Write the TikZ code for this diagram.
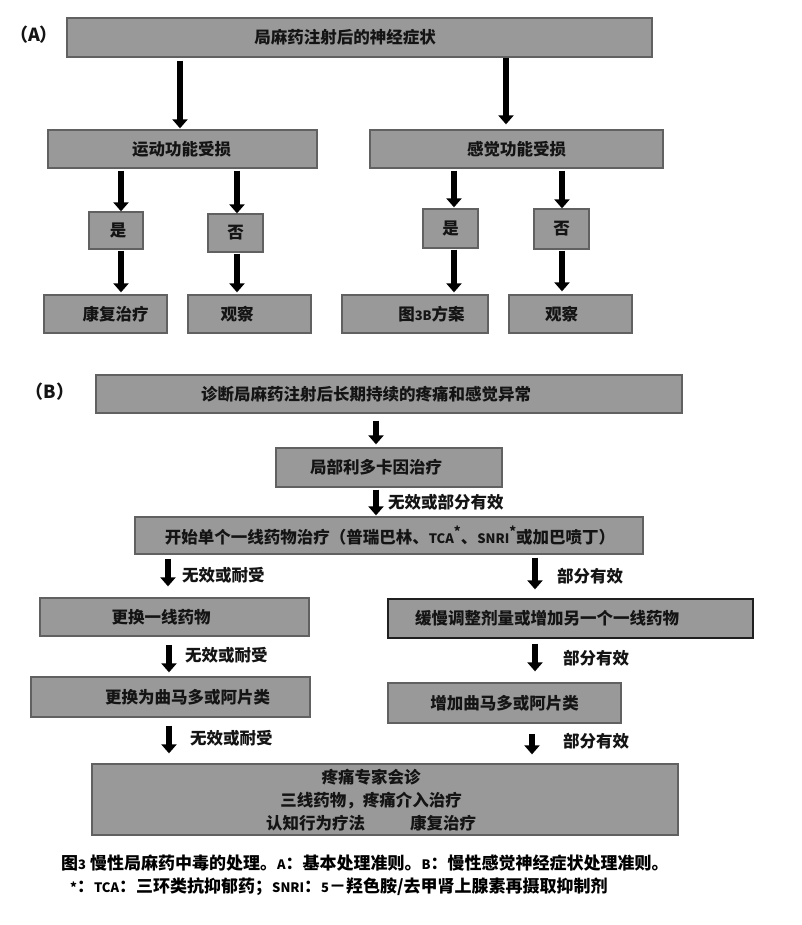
\documentclass[tikz,border=0pt]{standalone}
\usepackage{fontspec}
\setmainfont{Noto Sans CJK SC}
\usetikzlibrary{arrows.meta}
\tikzset{
  box/.style={draw=black!62, line width=1.3pt, fill=black!40, inner sep=0pt},
  arr/.style={line width=6.5pt, -{Triangle[width=15pt,length=9pt]}},
  txt/.style={font=\fontsize{16.5}{23}\selectfont\bfseries, text=black!92, inner sep=0pt},
  captxt/.style={font=\fontsize{17}{20}\selectfont\bfseries, text=black, inner sep=0pt, anchor=west},
}
\newcommand{\lat}[1]{{\fontsize{13}{15}\selectfont #1}}
\begin{document}
\begin{tikzpicture}[x=1pt,y=-1pt]
\useasboundingbox[fill=white] (0,0) rectangle (801,925);

% ---------------- Part A ----------------
\node[txt, font=\fontsize{18}{20}\selectfont\bfseries] (labA) at (34,35) {（A）};
\node[box, minimum width=585pt, minimum height=39pt, label={[txt,xshift=-14.5pt]center:{局麻药注射后的神经症状}}] (top) at (359.5,37.5) {};
\node[box, minimum width=269pt, minimum height=38pt, label={[txt,xshift=-1pt]center:{运动功能受损}}] (mot) at (182.5,149) {};
\node[box, minimum width=293pt, minimum height=38pt, label={[txt]center:{感觉功能受损}}] (sen) at (516.5,149) {};
\node[box, minimum width=54pt, minimum height=37pt, label={[txt,xshift=2pt]center:{是}}] (yL) at (116,230.5) {};
\node[box, minimum width=55pt, minimum height=38pt, label={[txt]center:{否}}] (nL) at (235.5,233) {};
\node[box, minimum width=123pt, minimum height=38pt, label={[txt,xshift=10pt]center:{康复治疗}}] (rehab) at (105.5,314) {};
\node[box, minimum width=123pt, minimum height=38pt, label={[txt,xshift=-12.5pt]center:{观察}}] (obsL) at (249.5,314) {};
\node[box, minimum width=55pt, minimum height=39pt, label={[txt]center:{是}}] (yR) at (450.5,228.5) {};
\node[box, minimum width=55pt, minimum height=40pt, label={[txt]center:{否}}] (nR) at (561.5,229) {};
\node[box, minimum width=146pt, minimum height=38pt, label={[txt,xshift=16.5pt]center:{图\lat{3B}方案}}] (plan) at (415,314) {};
\node[box, minimum width=123pt, minimum height=38pt, label={[txt,xshift=-9pt]center:{观察}}] (obsR) at (570.5,314) {};

\coordinate (a1) at (180,0);
\coordinate (a2) at (506,0);
\coordinate (a3) at (121,0);
\coordinate (a4) at (237,0);
\coordinate (a5) at (454,0);
\coordinate (a6) at (562,0);

\draw[arr, shorten <=3pt, shorten >=1pt] (top.south -| a1) -- (mot.north -| a1);
\draw[arr, shorten <=0pt, shorten >=5pt] (top.south -| a2) -- (sen.north -| a2);
\draw[arr, shorten <=2pt] (mot.south -| a3) -- (yL.north -| a3);
\draw[arr, shorten <=2pt] (mot.south -| a4) -- (nL.north -| a4);
\draw[arr, shorten <=1pt, shorten >=2pt] (yL.south -| a3) -- (rehab.north -| a3);
\draw[arr, shorten <=1pt, shorten >=2pt] (nL.south -| a4) -- (obsL.north -| a4);
\draw[arr, shorten <=2pt, shorten >=1pt] (sen.south -| a5) -- (yR.north -| a5);
\draw[arr, shorten <=2pt] (sen.south -| a6) -- (nR.north -| a6);
\draw[arr, shorten <=1pt, shorten >=2pt] (yR.south -| a5) -- (plan.north -| a5);
\draw[arr, shorten <=1pt, shorten >=3pt] (nR.south -| a6) -- (obsR.north -| a6);

% ---------------- Part B ----------------
\node[txt, font=\fontsize{18}{20}\selectfont\bfseries] (labB) at (50,392) {（B）};
\node[box, minimum width=586pt, minimum height=38pt, label={[txt,xshift=-23pt]center:{诊断局麻药注射后长期持续的疼痛和感觉异常}}] (b1) at (389,394) {};
\node[box, minimum width=226pt, minimum height=39pt, label={[txt,xshift=-13pt]center:{局部利多卡因治疗}}] (b2) at (389,467.5) {};
\node[box, minimum width=508pt, minimum height=37pt, label={[txt,xshift=1pt]center:{开始单个一线药物治疗（普瑞巴林、\lat{TCA}\raisebox{7pt}{\lat{*}}、\lat{SNRI}\raisebox{7pt}{\lat{*}}或加巴喷丁）}}] (b3) at (389,535.5) {};
\node[box, minimum width=269pt, minimum height=38pt, label={[txt,xshift=-13.5pt]center:{更换一线药物}}] (b4L) at (174.5,617) {};
\node[box, draw=black!88, minimum width=365pt, minimum height=39pt, label={[txt,xshift=-23.5pt]center:{缓慢调整剂量或增加另一个一线药物}}] (b4R) at (570.5,618.5) {};
\node[box, minimum width=279pt, minimum height=40pt, label={[txt,xshift=17pt]center:{更换为曲马多或阿片类}}] (b5L) at (170.5,697) {};
\node[box, minimum width=233pt, minimum height=40pt, label={[txt]center:{增加曲马多或阿片类}}] (b5R) at (504.5,703) {};
\node[box, minimum width=586pt, minimum height=71pt] (b6) at (385,799.5) {};
\node[txt, align=center] (b6t) at (371,800) {疼痛专家会诊\\三线药物，疼痛介入治疗\\认知行为疗法\hspace{45pt}康复治疗};

\coordinate (c1) at (376,0);
\coordinate (c2) at (168,0);
\coordinate (c3) at (535,0);
\coordinate (c4) at (169,0);
\coordinate (c5) at (532,0);

\draw[arr, shorten <=7pt, shorten >=3pt] (b1.south -| c1) -- (b2.north -| c1);
\draw[arr, shorten <=2pt, shorten >=1pt] (b2.south -| c1) -- (b3.north -| c1);
\draw[arr, shorten <=4pt, shorten >=11pt] (b3.south -| c2) -- (b4L.north -| c2);
\draw[arr, shorten <=3pt, shorten >=9pt] (b3.south -| c3) -- (b4R.north -| c3);
\draw[arr, shorten <=8pt, shorten >=4pt] (b4L.south -| c4) -- (b5L.north -| c4);
\draw[arr, shorten <=5pt, shorten >=11pt] (b4R.south -| c3) -- (b5R.north -| c3);
\draw[arr, shorten <=8pt, shorten >=10pt] (b5L.south -| c4) -- (b6.north -| c4);
\draw[arr, shorten <=10pt, shorten >=9pt] (b5R.south -| c5) -- (b6.north -| c5);

\node[txt, anchor=west] (l1) at (388,502) {无效或部分有效};
\node[txt, anchor=west] (l2) at (182,575) {无效或耐受};
\node[txt, anchor=west] (l3) at (557,576) {部分有效};
\node[txt, anchor=west] (l4) at (185,655) {无效或耐受};
\node[txt, anchor=west] (l5) at (563,658) {部分有效};
\node[txt, anchor=west] (l6) at (190,738) {无效或耐受};
\node[txt, anchor=west] (l7) at (563,741) {部分有效};

% ---------------- Caption ----------------
\node[captxt] (cap1) at (61,863) {图\lat{3} 慢性局麻药中毒的处理。\lat{A}：基本处理准则。\lat{B}：慢性感觉神经症状处理准则。};
\node[captxt] (cap2) at (70,887) {\lat{*}：\lat{TCA}：三环类抗抑郁药；\lat{SNRI}：\lat{5}－羟色胺/去甲肾上腺素再摄取抑制剂};
\end{tikzpicture}
\end{document}
